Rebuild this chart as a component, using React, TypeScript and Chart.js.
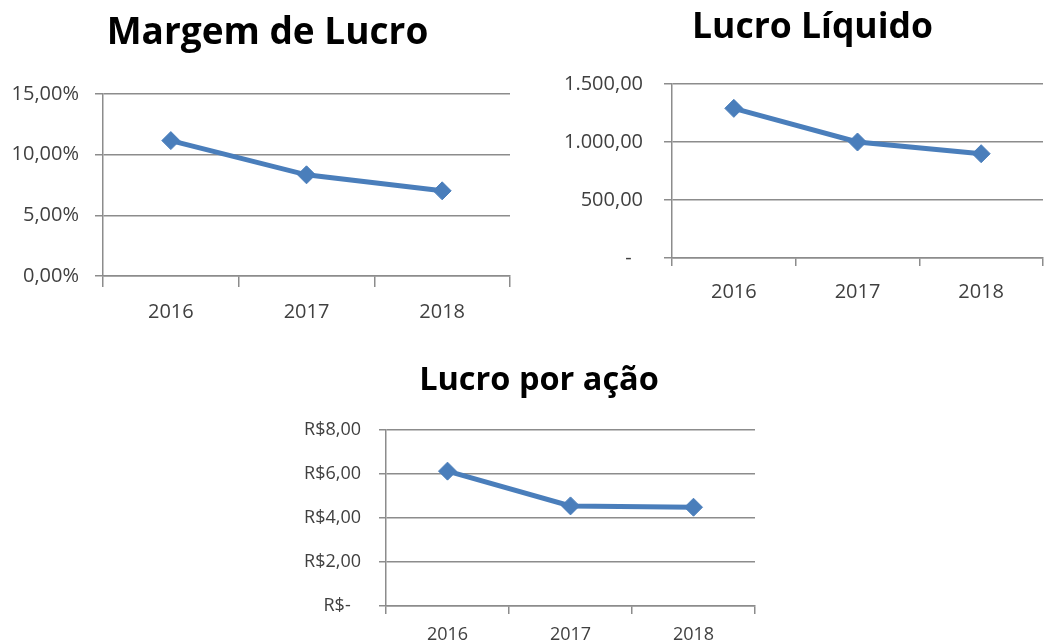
import React, { useEffect, useRef } from "react";
import { Chart, registerables } from "chart.js";

Chart.register(...registerables);

// ---- Data ----
const years = ["2016", "2017", "2018"];
const margemLucro = [11.16, 8.34, 7.02]; // %
const lucroLiquido = [1290, 1000, 899];
const lucroPorAcao = [6.13, 4.55, 4.49];

const title1 = "Margem de Lucro";
const title2 = "Lucro Líquido";
const title3 = "Lucro por ação";

const BLUE = "#4a7ebb";
const GRID = "#8c8c8c";
const TICK = "#404040";
const FONT = "'Open Sans', sans-serif";

function fmtNum(v: number): string {
  const fixed = v.toFixed(2);
  const [intPart, dec] = fixed.split(".");
  const withDots = intPart.replace(/\B(?=(\d{3})+(?!\d))/g, ".");
  return withDots + "," + dec;
}

type Spec = {
  left: number;
  top: number;
  width: number;
  height: number;
  padRight: number;
  padTop: number;
  yWidth: number;
  xHeight: number;
  title: string;
  titleSize: number;
  titleX: number;
  titleBaseline: number;
  tickSize: number;
  yPad: number;
  yTickLen: number;
  xPad: number;
  xTickLen: number;
  max: number;
  step: number;
  data: number[];
  fmt: (v: number) => string;
};

const chartTitlePlugin = {
  id: "chartTitle",
  afterDraw(chart: any, _args: any, opts: any) {
    if (!opts || !opts.text) return;
    const ctx = chart.ctx;
    ctx.save();
    ctx.font = `bold ${opts.size}px ${FONT}`;
    ctx.fillStyle = "#000";
    ctx.textAlign = "center";
    ctx.textBaseline = "alphabetic";
    ctx.fillText(opts.text, opts.x, opts.y);
    ctx.restore();
  },
};

function LineChart({ spec }: { spec: Spec }) {
  const ref = useRef<HTMLCanvasElement | null>(null);
  useEffect(() => {
    if (!ref.current) return;
    const chart = new Chart(ref.current, {
      type: "line",
      data: {
        labels: years,
        datasets: [
          {
            data: spec.data,
            borderColor: BLUE,
            backgroundColor: BLUE,
            borderWidth: 5,
            pointStyle: "rectRot",
            pointRadius: 9,
            pointBorderWidth: 1,
            pointBackgroundColor: BLUE,
            pointBorderColor: BLUE,
            tension: 0,
          },
        ],
      },
      plugins: [chartTitlePlugin],
      options: {
        responsive: false,
        animation: false,
        devicePixelRatio: 1,
        layout: {
          padding: { left: 0, right: spec.padRight, top: spec.padTop, bottom: 0 },
        },
        plugins: {
          legend: { display: false },
          tooltip: { enabled: false },
          title: { display: false },
          chartTitle: {
            text: spec.title,
            size: spec.titleSize,
            x: spec.titleX - spec.left,
            y: spec.titleBaseline - spec.top,
          },
        } as any,
        scales: {
          x: {
            offset: true,
            grid: {
              offset: true,
              drawOnChartArea: false,
              drawTicks: true,
              tickLength: spec.xTickLen,
              color: GRID,
              lineWidth: 1.5,
            },
            border: { display: true, color: GRID, width: 1.5 },
            ticks: {
              color: TICK,
              font: { family: FONT, size: spec.tickSize, lineHeight: 1.2 },
              padding: spec.xPad,
              maxRotation: 0,
            },
            afterFit: (s: any) => {
              s.height = spec.xHeight;
            },
          },
          y: {
            min: 0,
            max: spec.max,
            ticks: {
              stepSize: spec.step,
              color: TICK,
              font: { family: FONT, size: spec.tickSize },
              padding: spec.yPad,
              callback: (v: any) => spec.fmt(Number(v)),
            },
            grid: {
              color: GRID,
              lineWidth: 1.5,
              drawTicks: true,
              tickLength: spec.yTickLen,
            },
            border: { display: true, color: GRID, width: 1.5 },
            afterFit: (s: any) => {
              s.width = spec.yWidth;
            },
          },
        },
      },
    });
    return () => chart.destroy();
  }, [spec]);
  return (
    <canvas
      ref={ref}
      width={spec.width}
      height={spec.height}
      style={{ position: "absolute", left: spec.left, top: spec.top, width: spec.width, height: spec.height }}
    />
  );
}

const spec1: Spec = {
  left: 0, top: 0, width: 530, height: 330,
  padRight: 20, padTop: 94, yWidth: 103, xHeight: 54,
  title: title1, titleSize: 37, titleX: 267.5, titleBaseline: 44,
  tickSize: 20, yPad: 16, yTickLen: 8, xPad: 13, xTickLen: 11,
  max: 15, step: 5, data: margemLucro,
  fmt: (v) => v.toFixed(2).replace(".", ",") + "%",
};

const spec2: Spec = {
  left: 540, top: 0, width: 513, height: 320,
  padRight: 0, padTop: 84, yWidth: 132, xHeight: 62,
  title: title2, titleSize: 35.5, titleX: 812.5, titleBaseline: 38,
  tickSize: 20, yPad: 21, yTickLen: 8, xPad: 14, xTickLen: 8,
  max: 1500, step: 500, data: lucroLiquido,
  fmt: (v) => (v === 0 ? "-\u2007" : fmtNum(v)),
};

const spec3: Spec = {
  left: 280, top: 340, width: 500, height: 303,
  padRight: 25, padTop: 90, yWidth: 106, xHeight: 37,
  title: title3, titleSize: 32.5, titleX: 539, titleBaseline: 390,
  tickSize: 18, yPad: 18, yTickLen: 7, xPad: 10, xTickLen: 8,
  max: 8, step: 2, data: lucroPorAcao,
  fmt: (v) => (v === 0 ? "R$-\u2007" : "R$" + v.toFixed(2).replace(".", ",")),
};

export default function App() {
  return (
    <div
      style={{
        position: "absolute",
        left: 0,
        top: 0,
        width: 1047,
        height: 643,
        overflow: "hidden",
        background: "#fff",
      }}
    >
      <LineChart spec={spec1} />
      <LineChart spec={spec2} />
      <LineChart spec={spec3} />
    </div>
  );
}
